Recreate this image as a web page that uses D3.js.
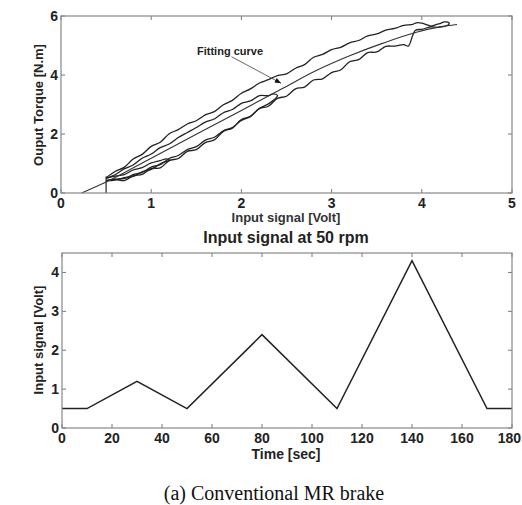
<!DOCTYPE html>
<html>
<head>
<meta charset="utf-8">
<script src="https://cdn.jsdelivr.net/npm/d3@7"></script>
<style>
  body { margin: 0; background: #fff; }
</style>
</head>
<body>
<svg id="chart" width="522" height="505" font-family="'Liberation Sans', Arial, sans-serif"></svg>
<script>
// ---- data: torque vs input signal (hysteresis loops, [volt, N.m]) ----
const startJump = [[0.5, 0], [0.5, 0.56]];

const bigUp = [[0.5,0.42],[0.6,0.46],[0.7,0.42],[0.8,0.58],[0.9,0.63],[1.0,0.83],[1.1,0.85],[1.2,1.10],
  [1.3,1.17],[1.4,1.41],[1.5,1.47],[1.6,1.71],[1.7,1.80],[1.8,2.09],[1.9,2.20],[2.0,2.49],[2.1,2.60],
  [2.2,2.86],[2.3,2.94],[2.4,3.21],[2.5,3.28],[2.6,3.53],[2.7,3.59],[2.8,3.83],[2.9,3.87],[3.0,4.08],
  [3.1,4.17],[3.2,4.45],[3.3,4.52],[3.4,4.76],[3.5,4.78],[3.6,4.97],[3.7,4.98],[3.8,5.03],[3.85,4.98],
  [3.9,5.35],[3.93,5.52],[4.0,5.55],[4.1,5.63],[4.2,5.62],[4.3,5.72]];
const bigDown = [[4.3,5.77],[4.25,5.80],[4.2,5.74],[4.15,5.70],[4.1,5.66],[4.05,5.71],[4.0,5.76],[3.94,5.77],
  [3.9,5.72],[3.8,5.68],[3.7,5.58],[3.6,5.52],[3.5,5.39],[3.4,5.33],[3.3,5.17],[3.2,5.09],[3.1,4.94],
  [3.0,4.86],[2.9,4.70],[2.8,4.60],[2.7,4.35],[2.6,4.23],[2.5,4.04],[2.4,3.98],[2.3,3.84],[2.2,3.73],
  [2.1,3.53],[2.0,3.38],[1.9,3.14],[1.8,2.99],[1.7,2.76],[1.6,2.65],[1.5,2.45],[1.4,2.34],[1.3,2.15],
  [1.2,2.01],[1.1,1.72],[1.0,1.58],[0.9,1.31],[0.8,1.15],[0.7,0.87],[0.6,0.73],[0.5,0.52]];

const midUp = [[0.5,0.42],[0.6,0.47],[0.7,0.49],[0.8,0.62],[0.9,0.70],[1.0,0.88],[1.1,0.96],[1.2,1.17],
  [1.3,1.27],[1.4,1.47],[1.5,1.57],[1.6,1.79],[1.7,1.89],[1.8,2.11],[1.9,2.22],[2.0,2.46],[2.1,2.59],
  [2.2,2.87],[2.3,3.02],[2.4,3.30]];
const midDown = [[2.35,3.36],[2.3,3.30],[2.2,3.30],[2.1,3.12],[2.0,3.04],[1.9,2.83],[1.8,2.72],[1.7,2.51],
  [1.6,2.40],[1.5,2.22],[1.4,2.05],[1.3,1.88],[1.2,1.66],[1.1,1.54],[1.0,1.32],[0.9,1.18],[0.8,0.95],
  [0.7,0.82],[0.6,0.62],[0.5,0.50]];

const smallUp = [[0.5,0.42],[0.6,0.44],[0.7,0.52],[0.8,0.56],[0.9,0.72],[1.0,0.80],[1.1,0.99],[1.2,1.12]];
const smallDown = [[1.17,1.16],[1.1,1.10],[1.0,1.02],[0.9,0.86],[0.8,0.78],[0.7,0.62],[0.6,0.57],[0.5,0.50]];

const fitVolt = [0.23, 0.5, 1.0, 1.5, 2.0, 2.46, 2.83, 3.2, 3.57, 3.94, 4.2, 4.39];
const fitTorque = [0, 0.37, 1.18, 1.99, 2.8, 3.55, 4.15, 4.65, 5.08, 5.45, 5.63, 5.71];

// ---- data: input signal vs time ----
const timeSec = [0, 10, 30, 50, 80, 110, 140, 170, 180];
const inputVolt = [0.5, 0.5, 1.2, 0.5, 2.4, 0.5, 4.3, 0.5, 0.5];

const topXTicks = [0, 1, 2, 3, 4, 5];
const topYTicks = [0, 2, 4, 6];
const botXTicks = [0, 20, 40, 60, 80, 100, 120, 140, 160, 180];
const botYTicks = [0, 1, 2, 3, 4];

const svg = d3.select("#chart");

function drawAxes(g, x, y, xTicks, yTicks) {
  const [x0, x1] = x.range();
  const [y0, y1] = y.range();
  const tk = 4;
  // inward ticks on all four sides (matlab box style)
  xTicks.forEach((v, i) => {
    g.append("line").attr("x1", x(v)).attr("x2", x(v)).attr("y1", y0).attr("y2", y0 - tk).attr("stroke", "#777");
    g.append("line").attr("x1", x(v)).attr("x2", x(v)).attr("y1", y1).attr("y2", y1 + tk).attr("stroke", "#777");
    // keep the last label inside the page edge
    const last = i === xTicks.length - 1 && String(v).length > 1;
    g.append("text").attr("x", last ? 521 : x(v)).attr("y", y0 + 15)
      .attr("text-anchor", last ? "end" : "middle")
      .attr("font-size", 14).attr("font-weight", "bold").attr("fill", "#222").text(v);
  });
  yTicks.forEach(v => {
    g.append("line").attr("x1", x0).attr("x2", x0 + tk).attr("y1", y(v)).attr("y2", y(v)).attr("stroke", "#777");
    g.append("line").attr("x1", x1).attr("x2", x1 - tk).attr("y1", y(v)).attr("y2", y(v)).attr("stroke", "#777");
    g.append("text").attr("x", x0 - 3).attr("y", y(v) + 5).attr("text-anchor", "end")
      .attr("font-size", 14).attr("font-weight", "bold").attr("fill", "#222").text(v);
  });
  g.append("rect").attr("x", x0).attr("y", y1).attr("width", x1 - x0).attr("height", y0 - y1)
    .attr("fill", "none").attr("stroke", "#888").attr("stroke-width", 1.2);
}

// ---------- top plot ----------
const xT = d3.scaleLinear().domain([0, 5]).range([61, 512]);
const yT = d3.scaleLinear().domain([0, 6]).range([193, 16]);
const gTop = svg.append("g");

const wavy = d3.line().x(d => xT(d[0])).y(d => yT(d[1])).curve(d3.curveCatmullRom.alpha(0.5));
const loops = [bigUp.concat(bigDown), midUp.concat(midDown), smallUp.concat(smallDown)];
gTop.selectAll(".loop").data(loops).enter().append("path")
  .attr("class", "loop").attr("d", wavy)
  .attr("fill", "none").attr("stroke", "#222").attr("stroke-width", 1.3);

gTop.append("path").attr("d", d3.line().x(d => xT(d[0])).y(d => yT(d[1]))(startJump))
  .attr("fill", "none").attr("stroke", "#222").attr("stroke-width", 1.2);

const fitData = fitVolt.map((v, i) => [v, fitTorque[i]]);
gTop.append("path").attr("d", d3.line().x(d => xT(d[0])).y(d => yT(d[1])).curve(d3.curveMonotoneX)(fitData))
  .attr("fill", "none").attr("stroke", "#333").attr("stroke-width", 1.1);

// annotation
svg.append("defs").append("marker").attr("id", "arr").attr("viewBox", "0 0 10 10")
  .attr("refX", 10).attr("refY", 5).attr("markerWidth", 7).attr("markerHeight", 7).attr("orient", "auto")
  .append("path").attr("d", "M0,1 L10,5 L0,9 Z").attr("fill", "#111");
gTop.append("line").attr("x1", xT(1.89)).attr("y1", yT(4.62)).attr("x2", xT(2.44)).attr("y2", yT(3.72))
  .attr("stroke", "#555").attr("stroke-width", 0.9).attr("marker-end", "url(#arr)");
gTop.append("text").attr("x", 197).attr("y", 55).attr("font-size", 11).attr("font-weight", "bold")
  .attr("fill", "#222").text("Fitting curve");

drawAxes(gTop, xT, yT, topXTicks, topYTicks);
gTop.append("text").attr("transform", "translate(43,105) rotate(-90)").attr("text-anchor", "middle")
  .attr("font-size", 13).attr("font-weight", "bold").attr("fill", "#222").text("Ouput Torque [N.m]");
gTop.append("text").attr("x", 286).attr("y", 222).attr("text-anchor", "middle")
  .attr("font-size", 13).attr("font-weight", "bold").attr("fill", "#333").text("Input signal [Volt]");

// ---------- bottom plot ----------
const xB = d3.scaleLinear().domain([0, 180]).range([62, 512]);
const yB = d3.scaleLinear().domain([0, 4.5]).range([428, 253]);
const gBot = svg.append("g");

gBot.append("path")
  .attr("d", d3.line().x((d, i) => xB(timeSec[i])).y(d => yB(d))(inputVolt))
  .attr("fill", "none").attr("stroke", "#222").attr("stroke-width", 1.5);

drawAxes(gBot, xB, yB, botXTicks, botYTicks);
gBot.append("text").attr("x", 286).attr("y", 243).attr("text-anchor", "middle")
  .attr("font-size", 16).attr("font-weight", "bold").attr("fill", "#222").text("Input signal at 50 rpm");
gBot.append("text").attr("x", 286).attr("y", 459).attr("text-anchor", "middle")
  .attr("font-size", 14).attr("font-weight", "bold").attr("fill", "#222").text("Time [sec]");
gBot.append("text").attr("transform", "translate(43,340) rotate(-90)").attr("text-anchor", "middle")
  .attr("font-size", 13).attr("font-weight", "bold").attr("fill", "#222").text("Input signal [Volt]");

svg.append("text").attr("x", 274).attr("y", 500).attr("text-anchor", "middle")
  .attr("font-family", "'Liberation Serif', 'Times New Roman', serif")
  .attr("font-size", 20).attr("fill", "#111").text("(a) Conventional MR brake");
</script>
</body>
</html>
